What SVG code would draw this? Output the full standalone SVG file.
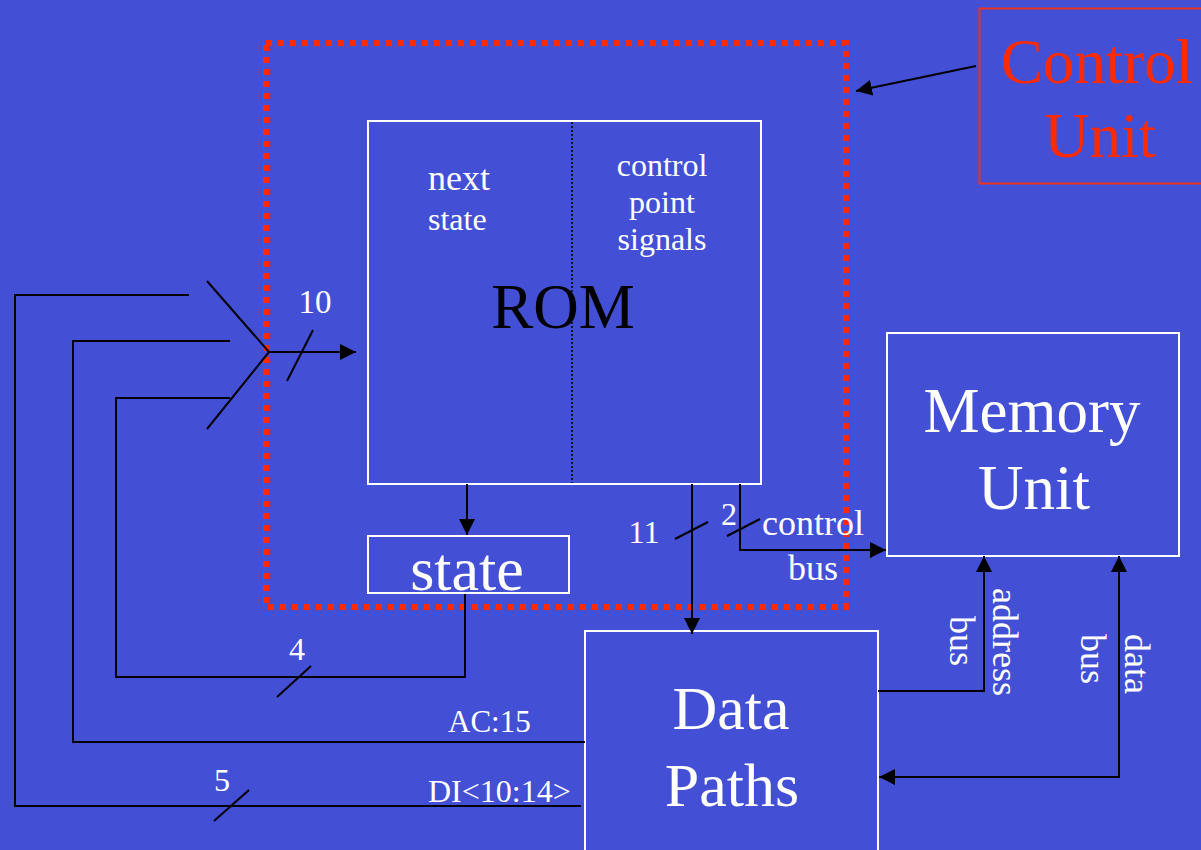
<svg xmlns="http://www.w3.org/2000/svg" width="1201" height="850" viewBox="0 0 1201 850">
<defs>
<style>
.bg{fill:#4350d6}
.box{fill:none;stroke:#ffffff;stroke-width:2}
.ln{fill:none;stroke:#000;stroke-width:2}
.t{font-family:"Liberation Serif","Times New Roman",serif;fill:#ffffff}
.red{fill:#ff2a00}
</style>
<marker id="ah" viewBox="0 0 16 16" refX="16" refY="8" markerWidth="16" markerHeight="16" markerUnits="userSpaceOnUse" orient="auto-start-reverse">
<path d="M0,0 L16,8 L0,16 Z" fill="#000"/>
</marker>
</defs>
<rect class="bg" x="0" y="0" width="1201" height="850"/>

<g id="control-unit-boundary">
<rect x="266" y="43" width="580" height="564" fill="none" stroke="#ff2a00" stroke-width="6" stroke-dasharray="6 6"/>
</g>

<g id="control-unit-label">
<rect x="979.5" y="8.5" width="230" height="175" fill="none" stroke="#e8321e" stroke-width="2"/>
<text class="t red" x="1097" y="83" font-size="63" text-anchor="middle">Control</text>
<text class="t red" x="1100" y="157" font-size="63" text-anchor="middle">Unit</text>
</g>

<g id="rom">
<rect class="box" x="368" y="121" width="393" height="363"/>
<line x1="572" y1="122" x2="572" y2="483" stroke="#000" stroke-width="1.5" stroke-dasharray="2 2"/>
<text class="t" x="428" y="190" font-size="36">next</text>
<text class="t" x="428" y="230" font-size="32">state</text>
<text class="t" x="662" y="176" font-size="32" text-anchor="middle">control</text>
<text class="t" x="662" y="213" font-size="32" text-anchor="middle">point</text>
<text class="t" x="662" y="250" font-size="32" text-anchor="middle">signals</text>
<text x="563" y="328" font-size="63" text-anchor="middle" font-family="Liberation Serif, Times New Roman, serif" fill="#000">ROM</text>
</g>

<g id="state">
<rect class="box" x="368" y="536" width="201" height="57"/>
<text class="t" x="467" y="590" font-size="62" text-anchor="middle">state</text>
</g>

<g id="memory-unit">
<rect class="box" x="887" y="333" width="292" height="223"/>
<text class="t" x="1032" y="432" font-size="63" text-anchor="middle">Memory</text>
<text class="t" x="1034" y="509" font-size="63" text-anchor="middle">Unit</text>
</g>

<g id="data-paths">
<rect class="box" x="585" y="631" width="293" height="240"/>
<text class="t" x="731" y="729" font-size="62" text-anchor="middle">Data</text>
<text class="t" x="732" y="806" font-size="62" text-anchor="middle">Paths</text>
</g>

<g id="connectors">
<polyline class="ln" points="189,295 15,295 15,806 581,806"/>
<polyline class="ln" points="230,341 73,341 73,742 585,742"/>
<polyline class="ln" points="230,398 116,398 116,677 465,677 465,594"/>
<polyline class="ln" points="207,281 269,352 207,429"/>
<line class="ln" x1="269" y1="352" x2="356" y2="352" marker-end="url(#ah)"/>
<line class="ln" x1="287" y1="381" x2="313" y2="330"/>
<line class="ln" x1="277" y1="697" x2="311" y2="666"/>
<line class="ln" x1="214" y1="821" x2="249" y2="790"/>
<line class="ln" x1="467" y1="484" x2="467" y2="535" marker-end="url(#ah)"/>
<line class="ln" x1="692" y1="484" x2="692" y2="634" marker-end="url(#ah)"/>
<line class="ln" x1="675" y1="539" x2="708" y2="522"/>
<polyline class="ln" points="740,484 740,550 886,550" marker-end="url(#ah)"/>
<line class="ln" x1="727" y1="536" x2="760" y2="519"/>
<polyline class="ln" points="878,691 984,691 984,556" marker-end="url(#ah)"/>
<polyline class="ln" points="879,777 1119,777 1119,556" marker-start="url(#ah)" marker-end="url(#ah)"/>
<line class="ln" x1="976" y1="66" x2="856" y2="91" marker-end="url(#ah)"/>
</g>

<g id="labels">
<text class="t" x="315" y="313" font-size="33" text-anchor="middle">10</text>
<text class="t" x="297" y="660" font-size="32" text-anchor="middle">4</text>
<text class="t" x="222" y="791" font-size="32" text-anchor="middle">5</text>
<text class="t" x="644" y="543" font-size="32" text-anchor="middle">11</text>
<text class="t" x="729" y="525" font-size="32" text-anchor="middle">2</text>
<text class="t" x="813" y="535" font-size="36" text-anchor="middle">control</text>
<text class="t" x="813" y="580" font-size="36" text-anchor="middle">bus</text>
<text class="t" x="448" y="732" font-size="31">AC:15</text>
<text class="t" x="428" y="802" font-size="32">DI&lt;10:14&gt;</text>
<text class="t" transform="translate(993,642) rotate(90)" font-size="36" text-anchor="middle">address</text>
<text class="t" transform="translate(950,641) rotate(90)" font-size="36" text-anchor="middle">bus</text>
<text class="t" transform="translate(1125,664) rotate(90)" font-size="36" text-anchor="middle">data</text>
<text class="t" transform="translate(1081,659) rotate(90)" font-size="36" text-anchor="middle">bus</text>
</g>
</svg>
